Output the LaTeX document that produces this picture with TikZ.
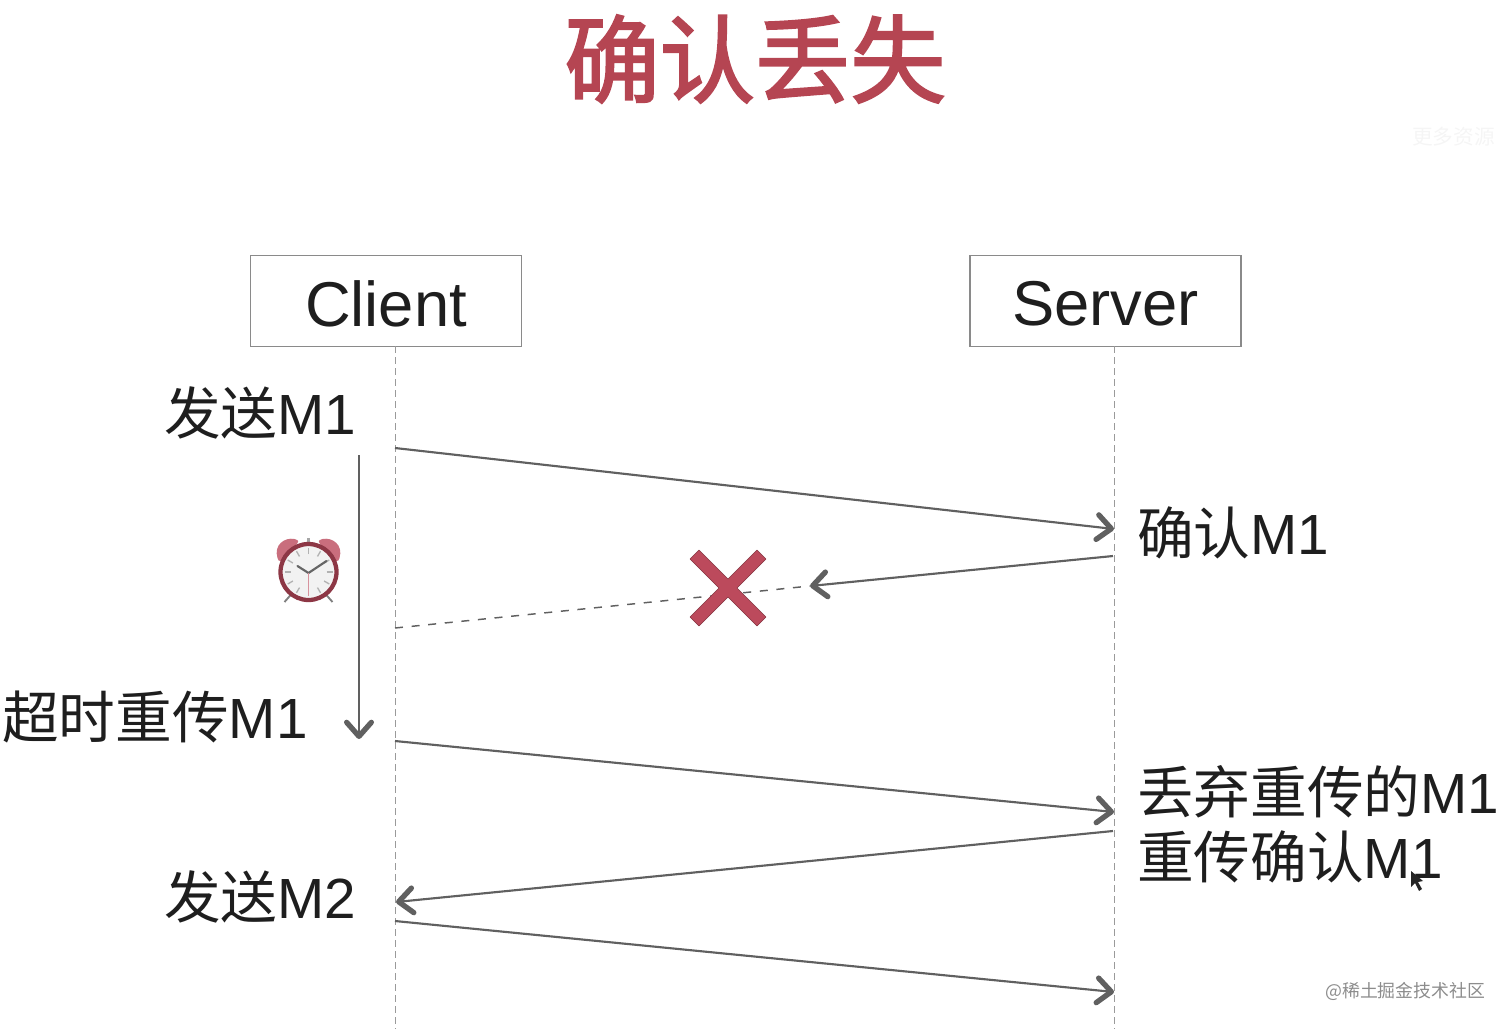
\documentclass[tikz,border=0pt]{standalone}
\usepackage{fontspec}
\setmainfont{Liberation Sans}
\newfontfamily\cjk{Noto Sans CJK SC}
\newfontfamily\cjkttl[FakeBold=2.2]{Noto Sans CJK SC}
\usetikzlibrary{arrows.meta}
\definecolor{ttl}{HTML}{B54552}
\definecolor{xred}{HTML}{BC4A5C}
\definecolor{linegray}{HTML}{606060}
\definecolor{boxgray}{HTML}{8A8A8A}
\definecolor{lifegray}{HTML}{9A9A9A}
\definecolor{txt}{HTML}{1E1E1E}
\tikzset{
  x=0.75pt,y=-0.75pt,
  actor/.style={draw=boxgray,line width=1.1pt,fill=white,minimum width=203.25pt,minimum height=68.25pt,inner sep=0pt},
  actorlbl/.style={text=txt,inner sep=0pt,font=\fontsize{47.5pt}{50pt}\selectfont},
  life/.style={draw=lifegray,line width=0.75pt,dash pattern=on 5pt off 3.25pt},
  msg/.style={draw=linegray,line width=1.6pt,-{Straight Barb[length=10.5pt,width=18.5pt,line width=4pt,round]}},
  lost/.style={draw=linegray,line width=1.1pt,dash pattern=on 6pt off 6.5pt},
  lbl/.style={anchor=west,inner sep=0pt,text=txt,align=left,font=\fontsize{42.5pt}{48.5pt}\selectfont},
  ttlstyle/.style={inner sep=0pt,text=ttl,font=\fontsize{71.5pt}{75pt}\selectfont\cjkttl},
  wmark/.style={inner sep=0pt,text=black!45,font=\fontsize{13.4pt}{16pt}\selectfont\cjk},
}
\begin{document}
\begin{tikzpicture}
\useasboundingbox (0,0) rectangle (1512,1029);
\node[ttlstyle] (ttl) at (755,59) {确认丢失};
\node[wmark,text=black!4,font=\fontsize{15.5pt}{16pt}\selectfont\cjk,anchor=west] (faint) at (1412,137) {更多资源};
\node[actor] (client) at (386,301) {};
\node[actor] (server) at (1105.5,301) {};
\node[actorlbl] (clientlbl) at (386,304) {Client};
\node[actorlbl] (serverlbl) at (1105.5,304) {Server};
% lifelines
\coordinate (ct) at (395,346); \coordinate (cb) at (395,1029);
\coordinate (st) at (1114,346); \coordinate (sb) at (1114,1029);
\draw[life] (ct) -- (cb);
\draw[life] (st) -- (sb);
% message end points
\coordinate (a1) at (395,448); \coordinate (a2) at (1114,529);
\coordinate (b1) at (1113,556); \coordinate (b2) at (810,586); \coordinate (b3) at (395,628);
\coordinate (t1) at (359,455); \coordinate (t2) at (359,739);
\coordinate (c1) at (395,741); \coordinate (c2) at (1114,812);
\coordinate (d1) at (1113,831); \coordinate (d2) at (396,902);
\coordinate (e1) at (395,921); \coordinate (e2) at (1114,992);
\draw[msg] (a1) -- (a2);
\draw[msg] (b1) -- (b2);
\draw[lost] (b3) -- (b2);
\draw[msg] (t1) -- (t2);
\draw[msg] (c1) -- (c2);
\draw[msg] (d1) -- (d2);
\draw[msg] (e1) -- (e2);
% labels
\node[lbl] (l1) at (164,413) {{\cjk 发送}M1};
\node[lbl] (l2) at (2,717) {{\cjk 超时重传}M1};
\node[lbl] (l3) at (164,897) {{\cjk 发送}M2};
\node[lbl] (l4) at (1137,533) {{\cjk 确认}M1};
\node[lbl] (l5) at (1137,792) {{\cjk 丢弃重传的}M1};
\node[lbl] (l6) at (1137,857) {{\cjk 重传确认}M1};
\node[wmark,anchor=west] (wm) at (1325,991) {@稀土掘金技术社区};
% cross
\fill[xred,draw=xred!70!black,line width=0.5pt,line join=round]
 (699,550) -- (728,579) -- (757,550) -- (766,559) -- (737,588) -- (766,617)
 -- (757,626) -- (728,597) -- (699,626) -- (690,617) -- (719,588) -- (690,559) -- cycle;
% alarm clock
\begin{scope}[shift={(308.5,572)}]
 \draw[black!50,line width=1.4pt] (-17,22) -- (-24,30) (17,22) -- (24,30);
 \draw[black!35,line width=2pt] (0,-34) -- (0,-28);
 \fill[xred!80!white] (-31,-14) .. controls (-35,-27) and (-24,-35) .. (-14,-33) .. controls (-10,-32) and (-9,-30) .. (-11,-29) -- (-27,-11) .. controls (-29,-10) and (-31,-12) .. (-31,-14) -- cycle;
 \fill[xred!80!white] (31,-14) .. controls (35,-27) and (24,-35) .. (14,-33) .. controls (10,-32) and (9,-30) .. (11,-29) -- (27,-11) .. controls (29,-10) and (31,-12) .. (31,-14) -- cycle;
 \path[draw=xred!75!black,line width=3.2pt,fill=black!5] (0,0) circle [radius=28];
 \foreach \a in {0,30,...,330}
   \draw[black!30,line width=1pt] (\a:18) -- (\a:24);
 \draw[black!60,line width=1.6pt,line cap=round] (-11,-6) -- (0,1) -- (18,-11);
 \draw[xred!60,line width=0.4pt] (0,1) -- (0,24);
\end{scope}
% cursor
\fill[black!85] (1411,871) -- (1411,887) -- (1415,883) -- (1419,891) -- (1422,889) -- (1418,882) -- (1423,881) -- cycle;
\end{tikzpicture}
\end{document}
